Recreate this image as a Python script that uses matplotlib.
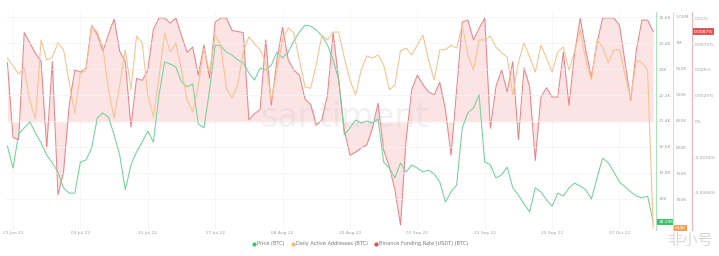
import matplotlib
matplotlib.use("Agg")
import matplotlib.pyplot as plt
import matplotlib.dates as mdates
import numpy as np
import pandas as pd

# daily series, 20 Jun 2022 .. 13 Oct 2022
dates = pd.date_range("2022-06-20", periods=116, freq="D")

price = [20630, 19950, 21000, 21190, 21370, 21030, 20720, 20350, 20110, 19830,
         19340, 19180, 19180, 20140, 20200, 20570, 21490, 21650, 21520, 20970,
         20350, 19280, 20050, 20450, 20750, 21090, 20750, 22200, 23220, 23150,
         23060, 22600, 22450, 22540, 21310, 21190, 22350, 23740, 23710, 23520,
         23430, 23280, 23190, 22880, 22660, 23030, 22970, 23120, 23520, 23340,
         23520, 23860, 24140, 24350, 24320, 24200, 24020, 23740, 23280, 22660,
         20970, 21190, 21430, 21340, 21400, 21340, 21460, 20140, 19950, 19650,
         20110, 19830, 20050, 19950, 19830, 19890, 19770, 19520, 18910, 19220,
         19430, 21190, 21650, 21800, 22200, 20140, 20050, 19650, 19740, 19980,
         19340, 19120, 18850, 18600, 19340, 19220, 18970, 18780, 19180, 19090,
         19340, 19490, 19400, 19280, 19000, 19650, 20260, 20110, 19830, 19520,
         19370, 19220, 19090, 19030, 19090, 18290]

active_addr = [971, 956, 940, 952, 888, 854, 1006, 967, 973, 1000,
               987, 925, 865, 942, 948, 1033, 1021, 992, 910, 856,
               919, 987, 910, 1013, 1000, 900, 858, 935, 1019, 983,
               1000, 948, 890, 867, 919, 990, 944, 1015, 996, 913,
               894, 919, 983, 1012, 998, 987, 962, 890, 948, 1006,
               1029, 1019, 967, 915, 913, 958, 1015, 1006, 1021, 1021,
               971, 929, 900, 948, 975, 971, 977, 958, 910, 919,
               985, 990, 977, 996, 1015, 967, 929, 987, 987, 996,
               990, 1035, 977, 948, 1006, 1006, 1013, 992, 981, 973,
               900, 963, 1000, 973, 944, 996, 971, 944, 983, 992,
               948, 983, 1025, 967, 929, 1006, 992, 962, 987, 987,
               938, 894, 967, 962, 948, 644]
active_addr = [v * 1000 for v in active_addr]

funding = [0.0057, -0.0015, -0.0017, 0.0086, 0.0076, 0.0066, 0.0058, -0.0025, 0.0058, -0.0070,
           -0.0048, 0.0016, 0.0050, 0.0048, 0.0052, 0.0093, 0.0084, 0.0068, 0.0084, 0.0099,
           0.0068, 0.0058, -0.0005, 0.0042, 0.0040, 0.0050, 0.0089, 0.0100, 0.0100, 0.0095,
           0.0100, 0.0083, 0.0067, 0.0072, 0.0045, 0.0074, 0.0042, 0.0096, 0.0100, 0.0100,
           0.0088, 0.0087, 0.0086, 0.0002, 0.0008, 0.0012, 0.0079, 0.0016, 0.0060, 0.0091,
           0.0060, 0.0050, 0.0045, 0.0022, 0.0017, -0.0003, 0.0002, 0.0026, 0.0086, 0.0040,
           -0.0008, -0.0032, -0.0029, -0.0025, -0.0022, -0.0006, 0.0018, -0.0027, -0.0043, -0.0065,
           -0.0099, -0.0017, 0.0031, 0.0045, 0.0036, 0.0029, 0.0026, 0.0038, 0.0012, -0.0032,
           0.0031, 0.0096, 0.0098, 0.0079, 0.0090, 0.0100, -0.0006, 0.0034, 0.0050, 0.0029,
           0.0058, -0.0017, 0.0052, 0.0034, -0.0037, 0.0024, 0.0033, 0.0024, 0.0024, 0.0067,
           0.0016, 0.0066, 0.0100, 0.0069, 0.0043, 0.0076, 0.0100, 0.0100, 0.0100, 0.0093,
           0.0057, 0.0021, 0.0069, 0.0098, 0.0098, 0.0087]

xtick_dates = pd.date_range("2022-06-21", periods=10, freq="12D")
price_ticks = [19000, 19800, 20600, 21400, 22200, 23000, 23800, 24600]
price_labels = ["19K", "19.8K", "20.6K", "21.4K", "22.2K", "23K", "23.8K", "24.6K"]
addr_ticks = [700000, 750000, 800000, 850000, 900000, 950000, 1000000, 1050000]
addr_labels = ["700K", "750K", "800K", "850K", "900K", "950K", "1M", "1.05M"]
fund_ticks = [-0.0068, -0.0034, 0, 0.0025, 0.005, 0.0075, 0.01]
fund_labels = ["-0.0068%", "-0.0034%", "0%", "0.0025%", "0.005%", "0.0075%", "0.01%"]

GREEN = "#74d09c"
ORANGE = "#f6c28f"
RED = "#e9858a"
FILL = "#fde4e4"
LABEL = "#a0a0a0"

W, H = 719, 256
fig = plt.figure(figsize=(W / 100, H / 100), dpi=100)
left, right, top, bottom = 6, 656, 12, 230
rect = [left / W, 1 - bottom / H, (right - left) / W, (bottom - top) / H]

ax_f = fig.add_axes(rect)          # funding rate, fill behind everything
ax_p = ax_f.twinx()                 # price
ax_a = ax_f.twinx()                 # active addresses

for a in (ax_f, ax_p, ax_a):
    a.set_facecolor("none")
    for s in a.spines.values():
        s.set_visible(False)

ax_f.fill_between(dates, funding, 0, color=FILL, lw=0, zorder=1)
ax_f.plot(dates, funding, color=RED, lw=0.75, zorder=3)
ax_f.set_ylim(-0.010385, 0.010577)
ax_f.yaxis.set_visible(False)
for d in xtick_dates:
    ax_f.axvline(d, color="#f3f3f3", lw=0.5, zorder=0)

ax_p.set_ylim(18046, 24754)
ax_p.set_yticks(price_ticks)
ax_p.yaxis.grid(True, color="#f3f3f3", lw=0.5)
ax_p.set_axisbelow(True)
ax_p.plot(dates, price, color=GREEN, lw=0.75, zorder=4)

ax_a.set_ylim(640400, 1059600)
ax_a.plot(dates, active_addr, color=ORANGE, lw=0.75, zorder=4)

ax_f.set_xlim(dates[0] - pd.Timedelta(hours=6), dates[-1] + pd.Timedelta(hours=12))
ax_f.set_xticks(xtick_dates)
ax_f.xaxis.set_major_formatter(mdates.DateFormatter("%d %b %y"))
ax_f.tick_params(axis="x", length=0, labelsize=3.2, colors=LABEL, pad=1)


def side_axis(a, pos, color, ticks, labels):
    a.spines["right"].set_visible(True)
    a.spines["right"].set_position(("axes", pos))
    a.spines["right"].set_color(color)
    a.spines["right"].set_linewidth(0.7)
    a.set_yticks(ticks)
    a.set_yticklabels(labels)
    a.tick_params(axis="y", length=0, labelsize=3.2, colors=LABEL, pad=2)


side_axis(ax_p, 1.0, "#a8e3bf", price_ticks, price_labels)
side_axis(ax_a, (673 - left) / (right - left), "#f7d3ad", addr_ticks, addr_labels)

ax_r = ax_f.twinx()
ax_r.set_facecolor("none")
for s in ax_r.spines.values():
    s.set_visible(False)
ax_r.set_ylim(ax_f.get_ylim())
side_axis(ax_r, (692 - left) / (right - left), "#f3b0b0", fund_ticks, fund_labels)


def badge(a, pos, y, text, color):
    a.annotate(text, xy=(pos, y), xycoords=("axes fraction", "data"),
               xytext=(1.5, 0), textcoords="offset points", va="center", ha="left",
               fontsize=3.2, color="white",
               bbox=dict(boxstyle="square,pad=0.25", fc=color, ec="none"), zorder=10,
               annotation_clip=False)


badge(ax_p, 1.0, price[-1], "18.29K", "#3cc26b")
badge(ax_a, (673 - left) / (right - left), active_addr[-1], "644K", "#f0a050")
badge(ax_r, (692 - left) / (right - left), funding[-1], "0.0087%", "#e05555")

ax_f.text(0.52, 0.515, "santiment", transform=ax_f.transAxes, ha="center", va="center",
          fontsize=24, color="#b8bcc8", alpha=0.2, zorder=2)

items = [("Price (BTC)", "#3cc26b"), ("Daily Active Addresses (BTC)", "#f5b971"),
         ("Binance Funding Rate (USDT) (BTC)", "#d9534f")]
handles = [plt.Line2D([], [], ls="none", marker="o", ms=2, color=c) for _, c in items]
fig.legend(handles, [t for t, _ in items], loc="center", bbox_to_anchor=(360 / W, 1 - 244 / H),
           ncol=3, frameon=False, fontsize=3.6, labelcolor="#777777", handletextpad=0.3,
           columnspacing=1.2, handlelength=0.8)

fig.text(690 / W, 1 - 240 / H, "非小号", family=["Noto Sans CJK SC", "DejaVu Sans"],
         fontsize=11, color="#d8d8d8", ha="center", va="center")

fig.savefig("out.png", dpi=100, facecolor="white")
